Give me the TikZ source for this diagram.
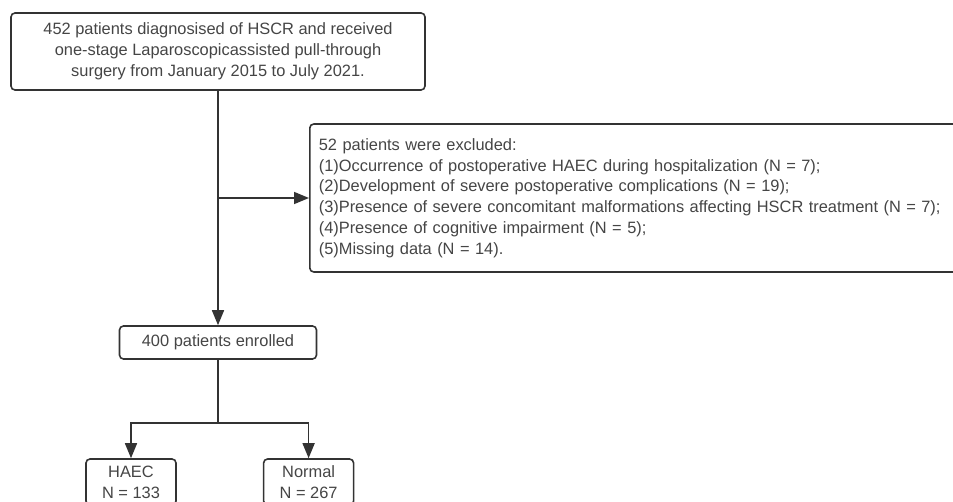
\documentclass[tikz,border=0pt]{standalone}
\usepackage{fontspec}
\setmainfont{Liberation Sans}
\usetikzlibrary{arrows.meta, positioning}
\definecolor{linegray}{HTML}{333333}
\definecolor{textgray}{HTML}{454545}
\tikzset{
  box/.style={draw=linegray, line width=1.6pt, rounded corners=4pt, fill=white, text=textgray,
    align=center, inner sep=0pt, font=\fontsize{16.4}{20.8}\selectfont},
  note/.style={box, align=left, inner xsep=9pt, text width=642pt, minimum height=148pt},
  arr/.style={-{Triangle[length=15pt, width=12pt]}, draw=linegray, line width=1.6pt},
  line/.style={draw=linegray, line width=1.6pt},
}

\begin{document}
\begin{tikzpicture}[x=1pt, y=1pt]
    \useasboundingbox (0,0) rectangle (953,-502);
    \clip (0,0) rectangle (953,-502);
    \node[box, minimum width=414pt, minimum height=77pt] (src) at (218,-51.5)
      {452 patients diagnosised of HSCR and received\\one-stage Laparoscopicassisted pull-through\\surgery from January 2015 to July 2021.};
    \node[box, minimum width=197pt, minimum height=33pt] (enr) at (218,-342.5) {400 patients enrolled};
    \node[note, anchor=west] (excl) at (309,-198)
      {52 patients were excluded:\\
       (1)Occurrence of postoperative HAEC during hospitalization (N = 7);\\
       (2)Development of severe postoperative complications (N = 19);\\
       (3)Presence of severe concomitant malformations affecting HSCR treatment (N = 7);\\
       (4)Presence of cognitive impairment (N = 5);\\
       (5)Missing data (N = 14).};
    \node[box, minimum width=90pt, minimum height=46pt] (haec) at (131,-482) {HAEC\\N = 133};
    \node[box, minimum width=90pt, minimum height=46pt, right=86pt of haec] (norm) {Normal\\N = 267};
    \coordinate (mid) at (218,-198);
    \coordinate (split) at (218,-423);
    \draw[arr] (src.south) -- (enr.north);
    \draw[arr] (mid) -- (excl.west);
    \draw[line] (enr.south) -- (split);
    \draw[arr] (split) -| (haec.north);
    \draw[arr] (split) -| (norm.north);
\end{tikzpicture}
\end{document}
